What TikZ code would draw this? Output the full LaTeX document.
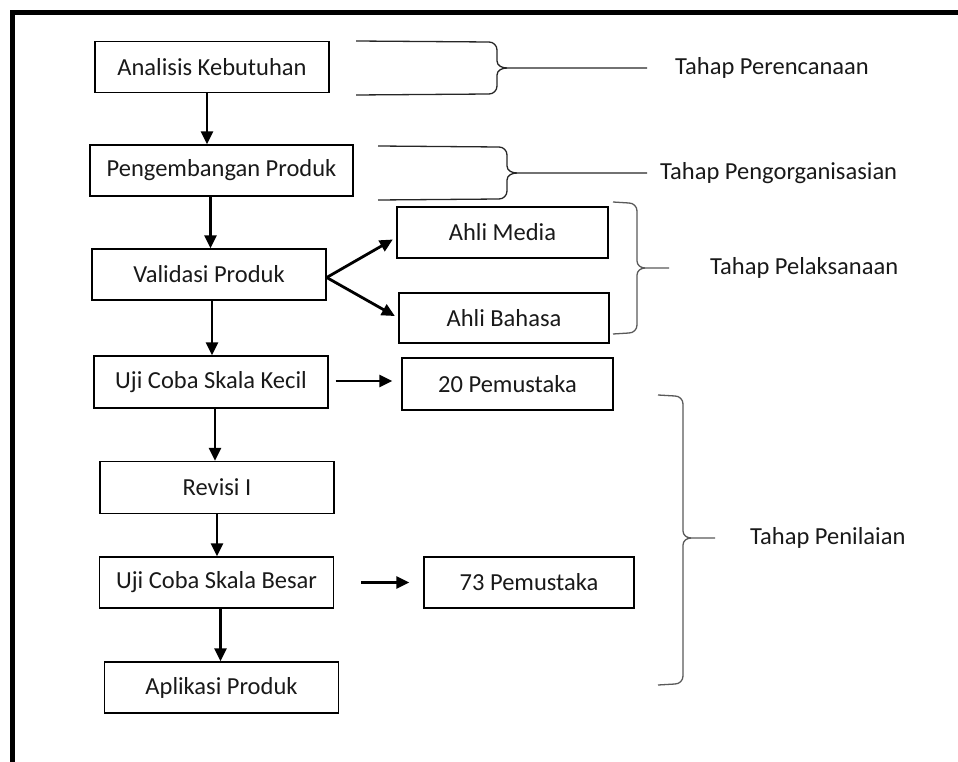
\documentclass[tikz,border=0pt]{standalone}
\usepackage{fontspec}
\setmainfont{Carlito}
\usetikzlibrary{arrows.meta,positioning}

\begin{document}
\begin{tikzpicture}[x=1pt, y=-1pt,
    block/.style={rectangle, draw, line width=1.4pt, minimum width=234pt, minimum height=51pt, inner sep=0pt, font=\fontsize{24.5}{28}\selectfont, text=black!90},
    arrow/.style={-{Triangle[length=13pt,width=12pt]}, line width=2.8pt},
    phase/.style={line width=1.3pt, black!85},
    stage/.style={inner sep=0pt, font=\fontsize{24.5}{28}\selectfont, text=black!90}
]
\useasboundingbox (0,0) rectangle (958,762);

% outer frame
\draw[line width=5pt] (12,762) -- (12,12.5) -- (958,12.5);

% main flow
\node[block] (ak) at (212,67) {Analisis Kebutuhan};
\node[block, minimum width=263pt] (pp) at (221.5,170.5) {Pengembangan Produk};
\node[block] (vp) at (209,274.5) {Validasi Produk};
\node[block, minimum width=211pt] (am) at (502.5,232.5) {Ahli Media};
\node[block, minimum width=210pt, minimum height=50pt] (ab) at (504,318) {Ahli Bahasa};
\node[block, minimum height=52pt] (uk) at (211,382) {Uji Coba Skala Kecil};
\node[block, minimum width=211pt, minimum height=52pt] (p20) at (507.5,384) {20 Pemustaka};
\node[block, minimum height=52pt] (rv) at (217,487.5) {Revisi I};
\node[block] (ub) at (216.5,582.5) {Uji Coba Skala Besar};
\node[block, minimum width=210pt] (p73) at (529,582.5) {73 Pemustaka};
\node[block] (ap) at (221.5,687.5) {Aplikasi Produk};

\draw[arrow] ([xshift=-5pt]ak.south) -- ([xshift=-5pt]ak.south |- pp.north);
\draw[arrow] ([xshift=-11pt]pp.south) -- ([xshift=-11pt]pp.south |- vp.north);
\draw[arrow] ([xshift=3pt]vp.south) -- ([xshift=3pt]vp.south |- uk.north);
\draw[arrow] ([xshift=4pt]uk.south) -- ([xshift=4pt]uk.south |- rv.north);
\draw[arrow] (rv.south) -- (rv.south |- ub.north);
\draw[arrow] ([xshift=4pt]ub.south) -- ([xshift=4pt]ub.south |- ap.north);

\draw[arrow, shorten >=4pt] ([yshift=-3pt]vp.east) -- ([yshift=-5pt]am.west);
\draw[arrow, shorten >=4pt] ([yshift=-3pt]vp.east) -- (ab.west);
\draw[arrow, shorten <=7pt, shorten >=9pt] ([yshift=1pt]uk.east) -- ([yshift=1pt]uk.east -| p20.west);
\draw[arrow, shorten <=27pt, shorten >=14pt] (ub.east) -- (ub.east -| p73.west);

% phase brackets
\draw[phase] (356,41) -- (489,42) to[out=0,in=90] (497,50) -- (497,61) to[out=-90,in=180] (507,68) -- (647,68) coordinate (e1);
\draw[phase] (356,95) -- (489,94) to[out=0,in=-90] (497,86) -- (497,75) to[out=90,in=180] (507,68);
\draw[phase] (378,146) -- (499,147) to[out=0,in=90] (507,155) -- (507,166) to[out=-90,in=180] (517,173) -- (647,173) coordinate (e2);
\draw[phase] (378,200) -- (499,199) to[out=0,in=-90] (507,191) -- (507,180) to[out=90,in=180] (517,173);
\draw[phase, black!65] (613,202) -- (629,203) to[out=0,in=90] (637,211) -- (637,261) to[out=-90,in=180] (645,268) -- (669,268) coordinate (e3);
\draw[phase, black!65] (613,334) -- (629,333) to[out=0,in=-90] (637,325) -- (637,275) to[out=90,in=180] (645,268);
\draw[phase, black!65] (658,395) -- (675,396) to[out=0,in=90] (683,404) -- (683,531) to[out=-90,in=180] (691,538) -- (715,538) coordinate (e4);
\draw[phase, black!65] (658,685) -- (675,684) to[out=0,in=-90] (683,676) -- (683,545) to[out=90,in=180] (691,538);

\node[stage, right=28pt of e1] (tp1) {Tahap Perencanaan};
\node[stage, right=13pt of e2] (tp2) {Tahap Pengorganisasian};
\node[stage, right=41pt of e3] (tp3) {Tahap Pelaksanaan};
\node[stage, right=35pt of e4] (tp4) {Tahap Penilaian};

\end{tikzpicture}
\end{document}
